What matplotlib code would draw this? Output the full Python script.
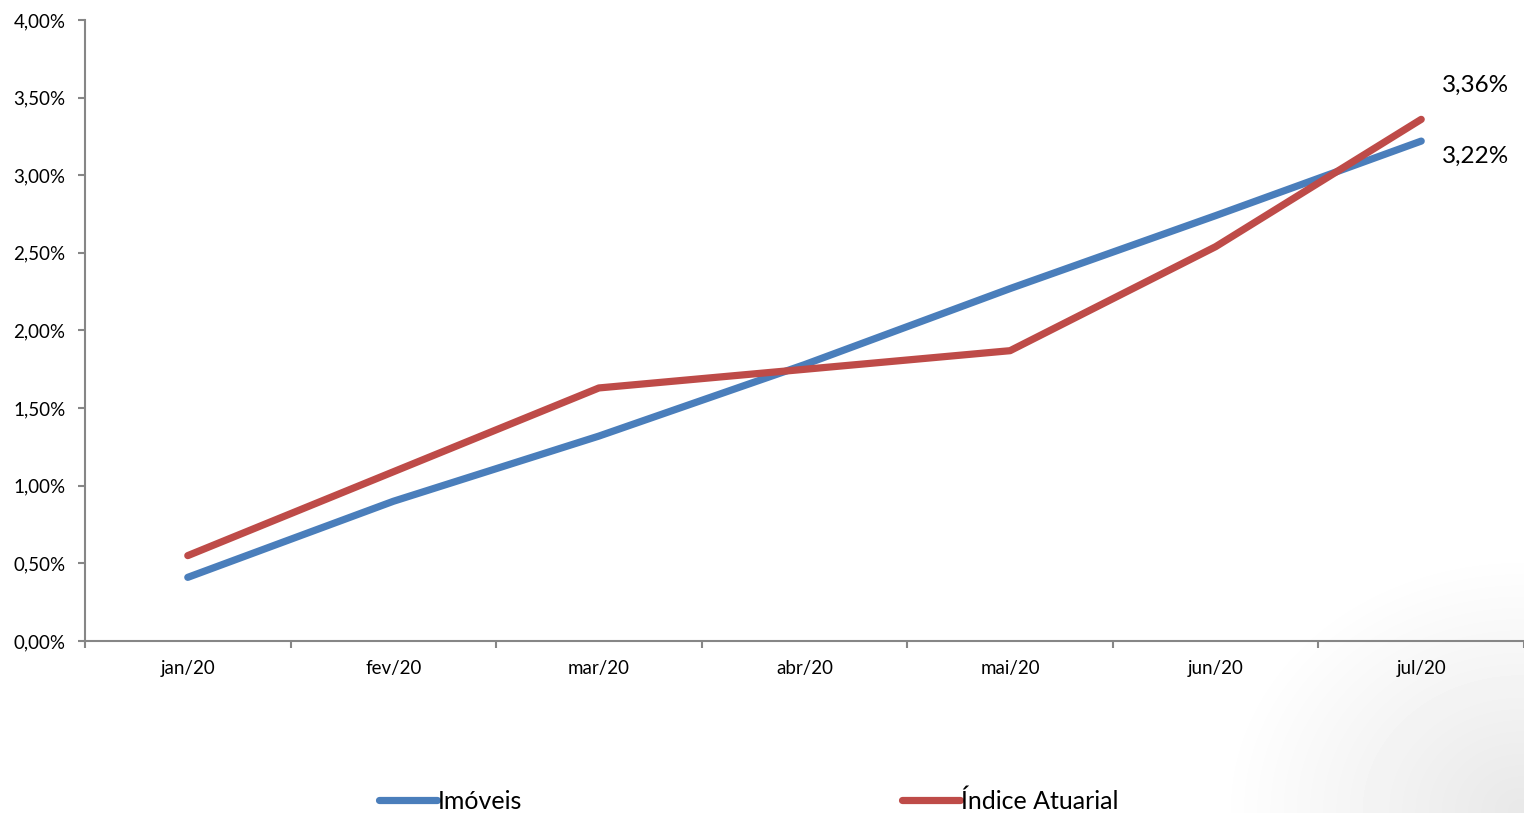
import numpy as np
import matplotlib.pyplot as plt
from matplotlib.ticker import FuncFormatter

# Data (% per month, accumulated)
months = ['jan/20', 'fev/20', 'mar/20', 'abr/20', 'mai/20', 'jun/20', 'jul/20']
imoveis = [0.41, 0.90, 1.32, 1.78, 2.27, 2.74, 3.22]
indice_atuarial = [0.55, 1.09, 1.63, 1.75, 1.87, 2.54, 3.36]

blue = '#4A7EBB'
red = '#BE4B48'
axis_gray = '#868686'


def pct(v):
    return f'{v:.2f}%'.replace('.', ',')


plt.rcParams['font.family'] = ['Lato', 'DejaVu Sans']

fig = plt.figure(figsize=(15.24, 8.13), dpi=100)

# Faint shadow in the lower right corner
bg = fig.add_axes([0, 0, 1, 1], zorder=-10)
gx, gy = np.meshgrid(np.linspace(0, 1, 300), np.linspace(0, 1, 160))
d = np.clip(1 - np.hypot((1 - gx) / 0.2, gy / 0.32), 0, 1)
bg.imshow(1 - 0.09 * d, cmap='gray', vmin=0, vmax=1, extent=[0, 1, 0, 1],
          aspect='auto', origin='lower', interpolation='bilinear')
bg.axis('off')

ax = fig.add_axes([85 / 1524, 1 - 641 / 813, 1 - 85 / 1524, (641 - 20) / 813])
ax.patch.set_alpha(0)

x = np.arange(len(months))
ax.plot(x, imoveis, color=blue, lw=5.2, solid_capstyle='round',
        solid_joinstyle='round', label='Imóveis')
ax.plot(x, indice_atuarial, color=red, lw=5.2, solid_capstyle='round',
        solid_joinstyle='round', label='Índice Atuarial')

# value labels at the last month
ax.text(x[-1] + 0.1, indice_atuarial[-1] + 0.22, pct(indice_atuarial[-1]),
        fontsize=17.5, ha='left', va='center')
ax.text(x[-1] + 0.1, imoveis[-1] - 0.1, pct(imoveis[-1]),
        fontsize=17.5, ha='left', va='center')

ax.set_xlim(-0.5, len(months) - 0.5)
ax.set_ylim(0, 4)
ax.set_yticks(np.arange(0, 4.01, 0.5))
ax.yaxis.set_major_formatter(FuncFormatter(lambda v, p: pct(v)))
ax.set_xticks(x)
ax.set_xticklabels(months)
ax.set_xticks(np.arange(-0.5, len(months)), minor=True)
ax.tick_params(axis='x', which='major', length=0, pad=14, labelsize=13.5)
ax.tick_params(axis='x', which='minor', length=5, width=1.5, color=axis_gray)
ax.tick_params(axis='y', length=5, width=1.5, color=axis_gray, labelsize=13.5, pad=9)

for side in ['top', 'right']:
    ax.spines[side].set_visible(False)
for side in ['left', 'bottom']:
    ax.spines[side].set_color(axis_gray)
    ax.spines[side].set_linewidth(1.5)

fig.legend(loc='center', bbox_to_anchor=(0.4915, 1 - 801 / 813), ncol=2,
           frameon=False, fontsize=18, handlelength=2.3, handletextpad=0.05,
           columnspacing=15.2)

fig.savefig('out.png', dpi=100)
